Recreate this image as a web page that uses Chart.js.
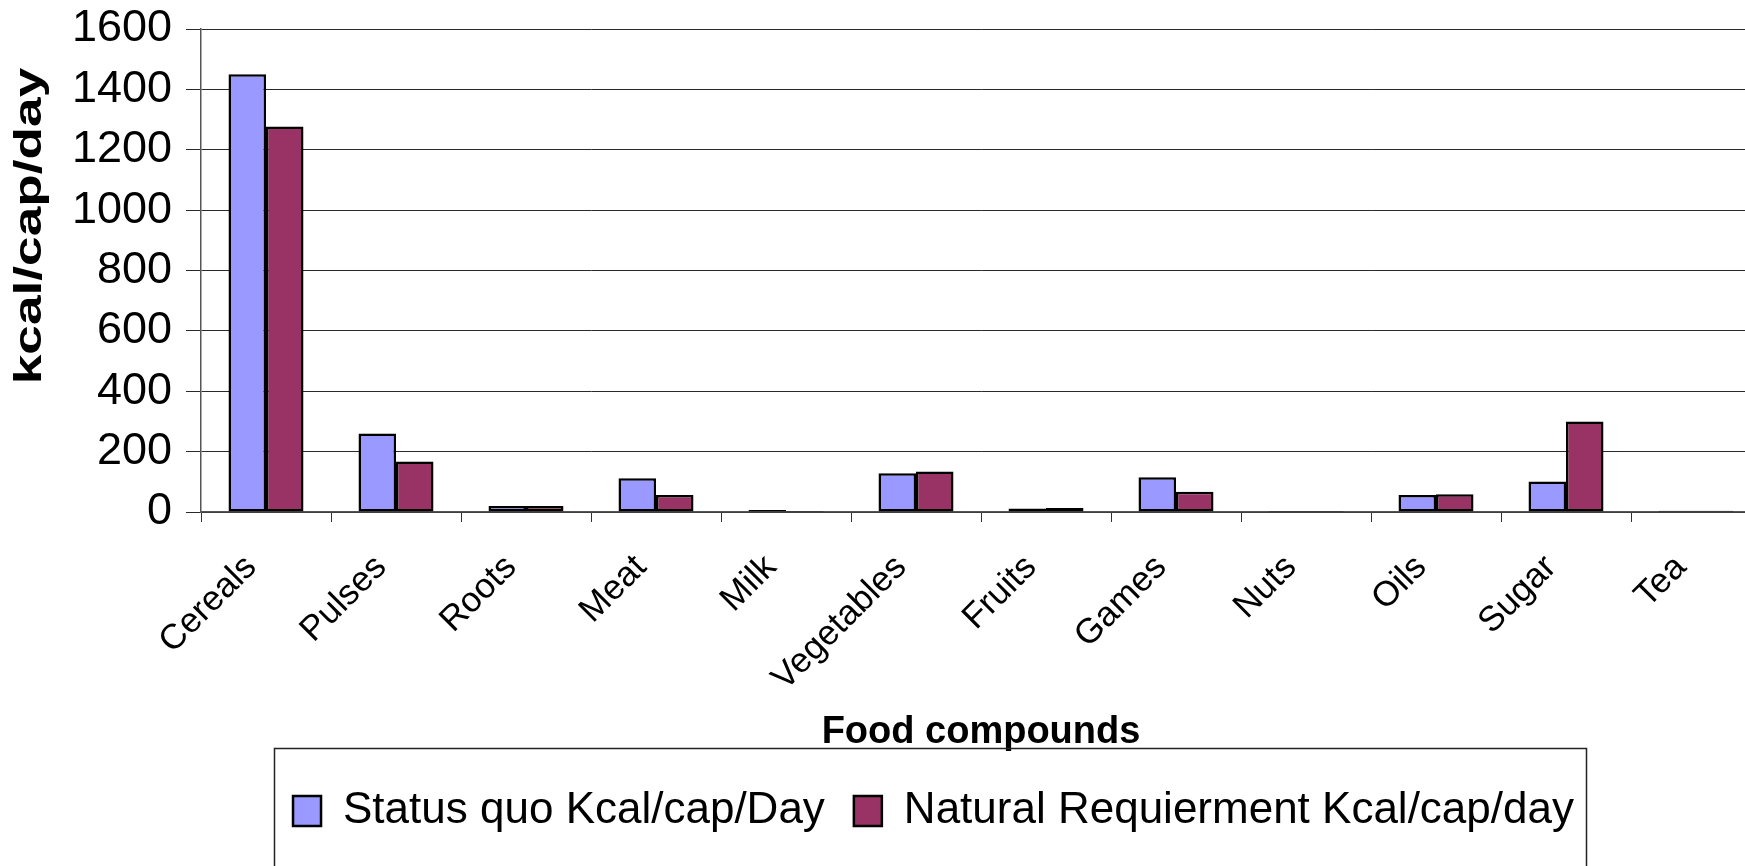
<!DOCTYPE html>
<html>
<head>
<meta charset="utf-8">
<script src="https://cdn.jsdelivr.net/npm/chart.js@4.4.1/dist/chart.umd.min.js"></script>
<style>
html,body{margin:0;padding:0;overflow:hidden;background:#ffffff;width:1745px;height:866px}
canvas{display:block}
</style>
</head>
<body>
<canvas id="c" width="1780" height="866" style="width:1780px;height:866px"></canvas>
<script>
const categories = ['Cereals','Pulses','Roots','Meat','Milk','Vegetables','Fruits','Games','Nuts','Oils','Sugar','Tea'];
const statusQuo = [1450, 260, 20, 112, 7, 128, 12, 115, 3, 56, 101, 4];
const naturalReq = [1277, 167, 20, 56, 3, 134, 13, 67, 3, 59, 300, 4];
const seriesNames = ['Status quo Kcal/cap/Day', 'Natural Requierment Kcal/cap/day'];
const seriesColors = ['#9999FF', '#993366'];
const yMin = 0, yMax = 1600, yStep = 200;
const xTitle = 'Food compounds';
const yTitle = 'kcal/cap/day';

const FONT = "'Liberation Sans', Arial, sans-serif";

const legendPlugin = {
  id: 'legendFrame',
  afterUpdate(chart) {
    const lg = chart.legend;
    if (!lg || !lg.legendHitBoxes || !lg.legendHitBoxes.length) return;
    const hb = lg.legendHitBoxes;
    const minX = hb[0].left;
    const last = hb[hb.length - 1];
    const maxX = last.left + last.width;
    const dx = 933.5 - (minX + maxX) / 2;
    lg.left += dx; lg.right += dx;
    hb.forEach(b => { b.left += dx; });
    chart.$legendFrame = { left: minX + dx - 19, right: maxX + dx + 12 };
  },
  afterDraw(chart) {
    const f = chart.$legendFrame;
    if (!f) return;
    const ctx = chart.ctx;
    ctx.save();
    ctx.strokeStyle = '#222';
    ctx.lineWidth = 1.5;
    ctx.strokeRect(Math.round(f.left) + 0.5, 748.5, Math.round(f.right - f.left), 140);
    ctx.restore();
  }
};

// the reference's vertical axis title is drawn stretched along its length
function patchYTitle(s) {
  if (s.$patched) return;
  s.$patched = true;
  const orig = s.drawTitle;
  s.drawTitle = function () {
    const c = this.ctx;
    const mid = (this.top + this.bottom) / 2;
    c.save();
    c.translate(0, 226);
    c.scale(1, 1.4);
    c.translate(0, -mid);
    orig.apply(this, arguments);
    c.restore();
  };
}

new Chart(document.getElementById('c'), {
  type: 'bar',
  data: {
    labels: categories,
    datasets: [
      { label: seriesNames[0], data: statusQuo, backgroundColor: seriesColors[0], borderColor: '#000', borderWidth: 2.5, borderSkipped: false },
      { label: seriesNames[1], data: naturalReq, backgroundColor: seriesColors[1], borderColor: '#000', borderWidth: 2.5, borderSkipped: false }
    ]
  },
  options: {
    responsive: false,
    animation: false,
    devicePixelRatio: 1,
    layout: { padding: { top: 29, right: 19, bottom: 23, left: 0 } },
    datasets: { bar: { barPercentage: 1.0, categoryPercentage: 0.577 } },
    plugins: {
      tooltip: { enabled: false },
      legend: {
        position: 'bottom',
        labels: {
          font: { family: FONT, size: 44 },
          color: '#000',
          boxWidth: 28,
          boxHeight: 30,
          padding: 29
        }
      }
    },
    scales: {
      x: {
        grid: { display: true, drawOnChartArea: false, offset: true, color: '#333', tickLength: 10, tickWidth: 1 },
        border: { display: true, color: '#555', width: 1.5 },
        ticks: {
          color: '#000',
          font: { family: FONT, size: 35 },
          minRotation: 45, maxRotation: 45,
          padding: 25,
          labelOffset: -15,
          autoSkip: false
        },
        title: {
          display: true, text: xTitle, color: '#000',
          font: { family: FONT, size: 38, weight: 'bold' },
          padding: { top: 0, bottom: 5 }
        },
        afterFit(s) { s.height = 248; }
      },
      y: {
        min: yMin, max: yMax,
        grid: { color: '#2a2a2a', lineWidth: 1, tickLength: 15 },
        border: { display: true, color: '#555', width: 1.5 },
        ticks: {
          stepSize: yStep, color: '#000',
          font: { family: FONT, size: 45, lineHeight: 0.5 },
          padding: 14,
          callback: v => String(v)
        },
        title: {
          display: true, text: yTitle, color: '#000',
          font: { family: FONT, size: 38, weight: 'bold' },
          padding: { top: 8, bottom: 0 }
        },
        afterFit(s) { s.width = 201; patchYTitle(s); }
      }
    }
  },
  plugins: [legendPlugin]
});
</script>
</body>
</html>
